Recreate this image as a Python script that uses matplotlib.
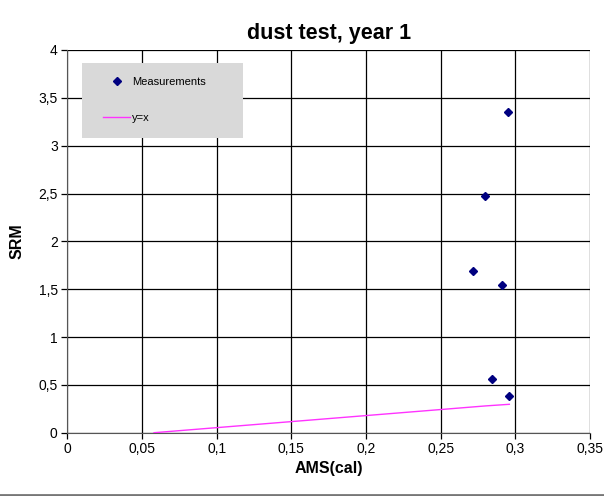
import matplotlib
matplotlib.use("Agg")
import matplotlib.pyplot as plt
from matplotlib.ticker import FuncFormatter, MultipleLocator
from matplotlib.lines import Line2D
from matplotlib.patches import Rectangle

plt.rcParams["font.family"] = ["Liberation Sans", "DejaVu Sans"]

ams_cal = [0.2951, 0.2797, 0.2715, 0.2914, 0.2847, 0.2960]
srm = [3.349, 2.477, 1.692, 1.546, 0.559, 0.381]

# "y=x" line as drawn in the original
line_x = [0.058, 0.280, 0.296]
line_y = [0.0, 0.280, 0.297]


def comma_fmt(v, _pos):
    s = f"{v:.2f}".rstrip("0").rstrip(".")
    return s.replace(".", ",")


fig = plt.figure(figsize=(6.04, 4.96), dpi=100)
ax = fig.add_axes([0.1116, 0.1276, 0.8652, 0.7716])

ax.plot(line_x, line_y, color="#ff33ff", linewidth=1.0, label="y=x", zorder=3)
ax.plot(ams_cal, srm, linestyle="none", marker="D", markersize=4.3,
        color="#000080", label="Measurements", zorder=4)

ax.set_xlim(0, 0.35)
ax.set_ylim(0, 4)
ax.xaxis.set_major_locator(MultipleLocator(0.05))
ax.yaxis.set_major_locator(MultipleLocator(0.5))
ax.xaxis.set_major_formatter(FuncFormatter(comma_fmt))
ax.yaxis.set_major_formatter(FuncFormatter(comma_fmt))
ax.grid(True, color="black", linewidth=0.9)
ax.set_axisbelow(True)
ax.tick_params(direction="out", length=4, width=0.9, labelsize=10, pad=3)
for side in ("top", "right"):
    ax.spines[side].set_visible(False)
for side in ("left", "bottom"):
    ax.spines[side].set_color("#555555")

ax.set_title("dust test, year 1", fontsize=15.5, fontweight="bold", pad=8)
ax.set_xlabel("AMS(cal)", fontsize=11.5, fontweight="bold", labelpad=3)
ax.set_ylabel("SRM", fontsize=11.5, fontweight="bold", labelpad=10)

# grey legend box
ax.add_patch(Rectangle((0.028, 0.771), 0.308, 0.194, transform=ax.transAxes,
                       facecolor="#d9d9d9", edgecolor="none", zorder=5))
handles = [
    Line2D([], [], linestyle="none", marker="D", markersize=3.8, color="#000080"),
    Line2D([], [], color="#ff33ff", linewidth=1.0),
]
leg = ax.legend(handles, ["Measurements", "y=x"], loc="upper left",
                bbox_to_anchor=(0.068, 0.929), borderaxespad=0, borderpad=0,
                fontsize=8, frameon=False,
                handlelength=2.45, handletextpad=0.15, labelspacing=2.3)
leg.set_zorder(6)

fig.add_artist(Line2D([0, 1], [0.003, 0.003], color="#777777", linewidth=2))

fig.savefig("out.png", dpi=100)
